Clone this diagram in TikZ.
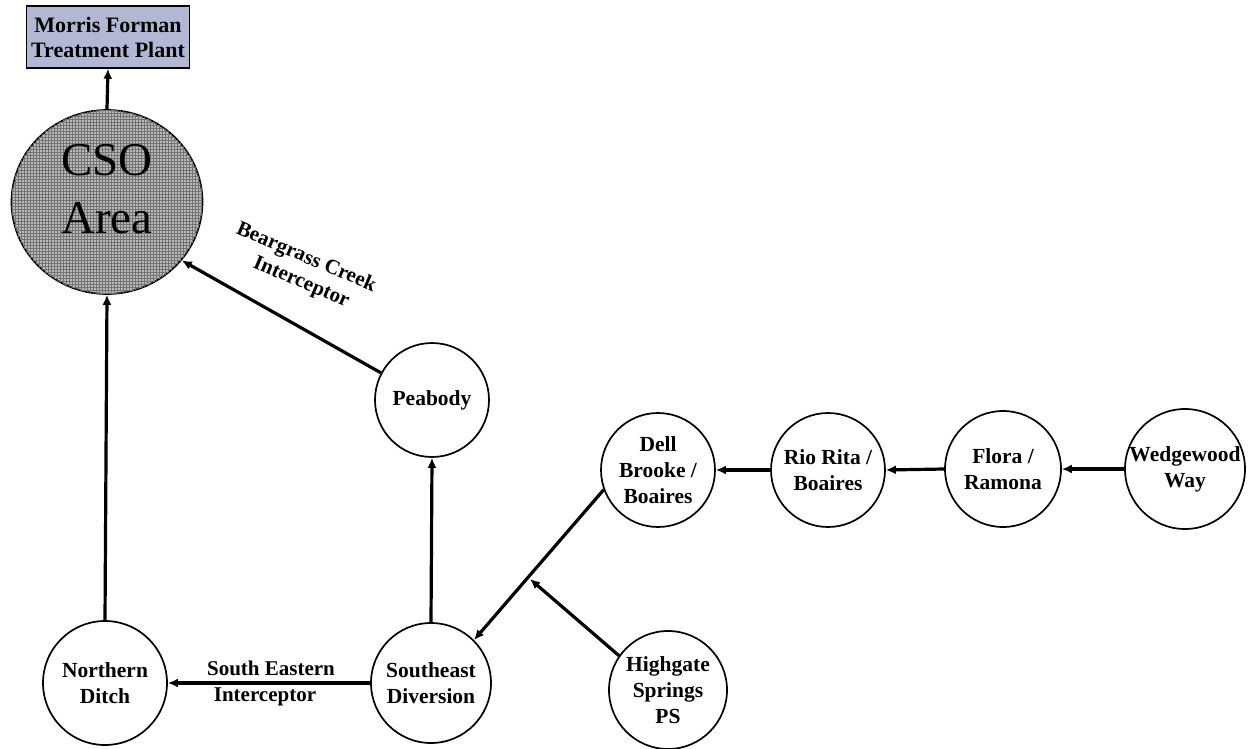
\documentclass[tikz,border=0pt]{standalone}
\usepackage{fontspec}
\setmainfont{Liberation Serif}
\usetikzlibrary{arrows.meta,patterns,shapes.geometric}
\begin{document}
\begin{tikzpicture}[x=1pt,y=-1pt,
  station/.style={draw=black,line width=1.7pt,circle,inner sep=0pt,minimum size=114pt,
    align=center,font=\fontsize{21.5}{26}\selectfont\bfseries},
  flow/.style={line width=3.2pt,-{Latex[length=10pt,width=9pt]}},
  pipelabel/.style={align=center,font=\fontsize{21}{26}\selectfont\bfseries,inner sep=1pt}]
\useasboundingbox (0,0) rectangle (1252,749);

% treatment plant and CSO area
\node[draw=black,line width=1.4pt,fill={rgb,255:red,178;green,184;blue,212},
  minimum width=163pt,minimum height=62pt,inner sep=0pt,align=center,
  font=\fontsize{22}{25}\selectfont\bfseries] (plant) at (108,37) {Morris Forman\\Treatment Plant};
\node[draw=black,line width=1.7pt,ellipse,inner sep=0pt,minimum width=191pt,minimum height=184pt,
  fill=gray!55,postaction={pattern=grid,pattern color=black!55}] (cso) at (107,202) {};
\node[align=center,font=\fontsize{47}{58}\selectfont,inner sep=0pt] (csotext) at (107,189) {CSO\\Area};

% stations
\node[station] (peabody) at (432,400) {Peabody};
\node[station] (dell) at (658,470) {Dell\\Brooke /\\Boaires};
\node[station] (rio) at (828,470) {Rio Rita /\\Boaires};
\node[station,minimum size=116pt] (flora) at (1003,469) {Flora /\\Ramona};
\node[station,minimum size=116pt] (wedge) at (1185,469) {Wedgewood\\Way};
\node[station,minimum size=120pt] (southeast) at (431,683) {Southeast\\Diversion};
\node[station,minimum size=118pt] (highgate) at (668,690) {Highgate\\Springs\\PS};
\node[station,minimum size=124pt] (northern) at (105,683) {Northern\\Ditch};

% flows
\draw[flow] (cso.north) -- (plant.south);
\draw[flow] (northern.north) -- (cso.south);
\draw[flow] (peabody.152) -- (cso.-38);
\draw[flow] (southeast.north) -- (peabody.south);
\draw[flow] (southeast.west) -- (northern.east);
\draw[flow] (dell.200) -- (southeast.45);
\coordinate (join) at (530,579);
\draw[flow] (highgate.145) -- (join);
\draw[flow] (rio.west) -- (dell.east);
\draw[flow] (flora.west) -- (rio.east);
\draw[flow] (wedge.west) -- (flora.east);

% pipe names
\node[pipelabel,rotate=-23] (bci1) at (306,258) {Beargrass Creek};
\node[pipelabel,rotate=-23] (bci2) at (301,283) {Interceptor};
\node[pipelabel] (sei1) at (271,668) {South Eastern};
\node[pipelabel] (sei2) at (265,697) {Interceptor};
\end{tikzpicture}
\end{document}
